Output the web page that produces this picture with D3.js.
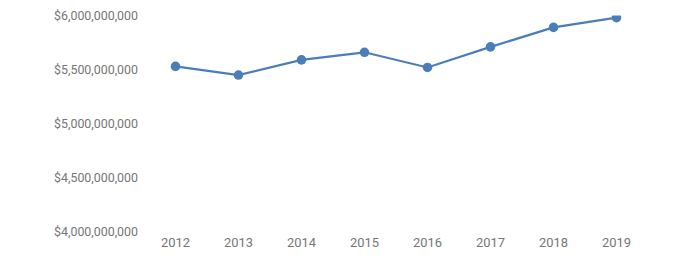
<!DOCTYPE html>
<html>
<head>
<meta charset="utf-8">
<script src="https://cdn.jsdelivr.net/npm/d3@7"></script>
<style>
  body { margin: 0; background: #fff; }
  text { font-family: Roboto, "Noto Sans", sans-serif; }
</style>
</head>
<body>
<div id="chart"></div>
<script>
var years = ["2012", "2013", "2014", "2015", "2016", "2017", "2018", "2019"];
var values = [5.53e9, 5.45e9, 5.59e9, 5.66e9, 5.52e9, 5.71e9, 5.89e9, 5.98e9];
var yTicks = [4e9, 4.5e9, 5e9, 5.5e9, 6e9];

var width = 699, height = 265;
var plot = {left: 144, right: 648, top: 15.5, bottom: 232};

var svg = d3.select("#chart").append("svg")
    .attr("width", width)
    .attr("height", height);

var x = d3.scaleBand()
    .domain(years)
    .range([plot.left, plot.right]);

var y = d3.scaleLinear()
    .domain([4e9, 6e9])
    .range([plot.bottom, plot.top]);

var fmt = function(v){ return "$" + d3.format(",")(v); };

// y labels
var yAxis = d3.axisLeft(y).tickValues(yTicks).tickFormat(fmt).tickSize(0).tickPadding(6);
var gy = svg.append("g")
    .attr("transform", "translate(" + plot.left + ",0)")
    .call(yAxis);
gy.select(".domain").remove();
gy.selectAll("text").attr("fill", "#767676").style("font-size", "12.4px");

// x labels
var xAxis = d3.axisBottom(x).tickSize(0).tickPadding(6);
var gx = svg.append("g")
    .attr("transform", "translate(0," + plot.bottom + ")")
    .call(xAxis);
gx.select(".domain").remove();
gx.selectAll("text").attr("fill", "#767676").style("font-size", "12.9px");

// clip to plot area
svg.append("clipPath").attr("id", "clip")
  .append("rect")
    .attr("x", 0)
    .attr("y", plot.top)
    .attr("width", width)
    .attr("height", plot.bottom - plot.top + 10);

var data = years.map(function(d, i){ return {year: d, value: values[i]}; });

var line = d3.line()
    .x(function(d){ return x(d.year) + x.bandwidth()/2; })
    .y(function(d){ return y(d.value); });

var g = svg.append("g").attr("clip-path", "url(#clip)");

g.append("path")
    .datum(data)
    .attr("fill", "none")
    .attr("stroke", "#4a7ebb")
    .attr("stroke-width", 2.2)
    .attr("d", line);

g.selectAll("circle")
    .data(data)
    .enter()
    .append("circle")
    .attr("cx", function(d){ return x(d.year) + x.bandwidth()/2; })
    .attr("cy", function(d){ return y(d.value); })
    .attr("r", 4.8)
    .attr("fill", "#4a7ebb");
</script>
</body>
</html>
